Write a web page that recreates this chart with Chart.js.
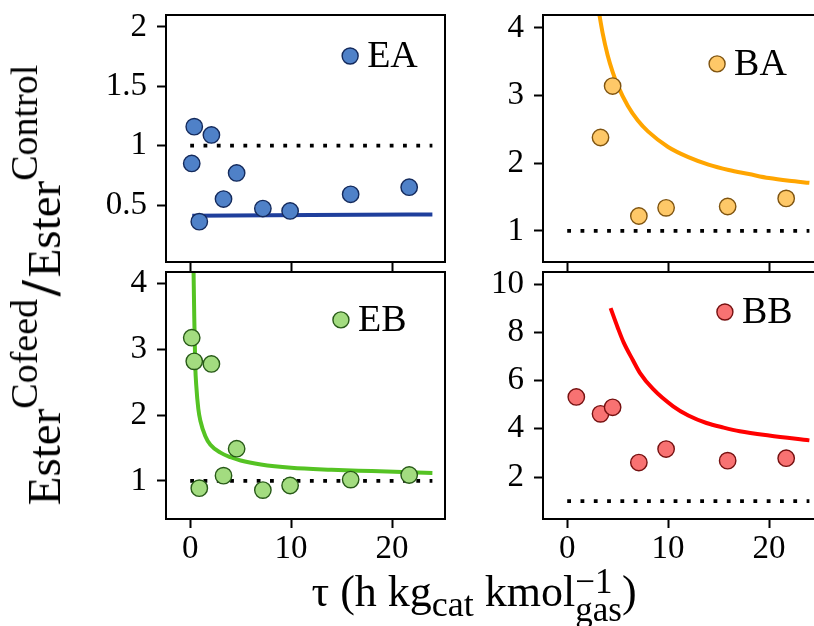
<!DOCTYPE html>
<html><head><meta charset="utf-8">
<script src="https://cdn.jsdelivr.net/npm/chart.js@4/dist/chart.umd.min.js"></script>
<style>
html,body{margin:0;padding:0;background:#fff;overflow:hidden}
#wrap{position:relative;width:814px;height:626px;overflow:hidden;font-family:'Liberation Serif',serif;color:#000;background:#fff}
canvas{position:absolute}
#ytitle{position:absolute;left:41px;top:285px;transform:translate(-50%,-50%) rotate(-90deg);white-space:nowrap;font-size:47px;line-height:1}
#ytitle .sup{font-size:38px;position:relative;top:-0.6em}
#ytitle .sl{font-weight:bold;font-size:56px;margin:0 3px}
#xtitle{position:absolute;left:474px;top:596px;transform:translate(-50%,-50%);white-space:nowrap;font-size:44px;line-height:1}
#xtitle .sub{font-size:36px;position:relative;top:0.28em}
#xtitle .stk{display:inline-flex;flex-direction:column;vertical-align:middle;font-size:35px;line-height:0.82;position:relative;top:0.02em}
</style></head>
<body><div id="wrap">
<canvas id="cEA"></canvas><canvas id="cBA"></canvas><canvas id="cEB"></canvas><canvas id="cBB"></canvas>
<div id="ytitle">Ester<span class="sup">Cofeed</span><span class="sl">/</span>Ester<span class="sup">Control</span></div>
<div id="xtitle">τ (h kg<span class="sub">cat</span> kmol<span class="stk"><span>−1</span><span>gas</span></span>)</div>
</div>
<script>
// ---- data ----
const tauE   = [0.15, 0.4, 0.9, 2.1, 3.3, 4.6, 7.2, 9.9, 15.9, 21.7];
const esterEA = [0.85, 1.16, 0.36, 1.09, 0.55, 0.77, 0.47, 0.45, 0.59, 0.65];
const esterEB = [3.18, 2.82, 0.89, 2.78, 1.08, 1.49, 0.86, 0.93, 1.02, 1.09];
const tauBA  = [3.3, 4.5, 7.1, 9.8, 15.9, 21.7];
const esterBA = [2.38, 3.14, 1.22, 1.34, 1.36, 1.48];
const tauBB  = [0.9, 3.3, 4.5, 7.1, 9.8, 15.9, 21.7];
const esterBB = [5.32, 4.62, 4.89, 2.60, 3.16, 2.68, 2.78];

const fitTauEA = [0.2, 12, 24];
const fitEA    = [0.41, 0.415, 0.42];
const fitTauBA = [3.1, 3.5, 4, 4.5, 5, 6, 7, 8, 10, 12, 14, 16, 18, 20, 22, 24];
const fitBA    = [4.27, 3.93, 3.6, 3.35, 3.15, 2.85, 2.63, 2.47, 2.24, 2.09, 1.98, 1.9, 1.84, 1.78, 1.74, 1.71];
const fitTauEB = [0.33, 0.4, 0.5, 0.6, 0.8, 1, 1.5, 2, 3, 4, 5, 7, 10, 14, 18, 24];
const fitEB    = [4.2, 3.5, 2.75, 2.45, 2.1, 1.92, 1.68, 1.55, 1.43, 1.36, 1.31, 1.25, 1.2, 1.17, 1.15, 1.12];
const fitTauBB = [4.3, 5, 5.6, 6.5, 7.2, 8.5, 10.5, 12, 13.8, 15.5, 17.1, 20, 24];
const fitBB    = [9.0, 8.2, 7.57, 6.85, 6.32, 5.65, 4.93, 4.55, 4.24, 4.05, 3.9, 3.72, 3.52];

const refTau = [0, 24];
const refVal = [1, 1];

const xTicks   = [0, 10, 20];
const yTicksEA = [0.5, 1, 1.5, 2];
const yTicksBA = [1, 2, 3, 4];
const yTicksEB = [1, 2, 3, 4];
const yTicksBB = [2, 4, 6, 8, 10];

// ---- layout ----
const FONT = "'Liberation Serif', serif";
const AX = 110, AXH = 60, PT = 30, PR = 10;
const zip = (xs, ys) => xs.map((x, i) => ({x, y: ys[i]}));

const framePlugin = {
  id: 'frame',
  afterDraw(chart, args, o) {
    const {ctx, chartArea: a} = chart;
    ctx.save();
    ctx.strokeStyle = '#000'; ctx.lineWidth = 2;
    ctx.strokeRect(a.left, a.top, a.right - a.left, a.bottom - a.top);
    const lx = a.left + o.fx * (a.right - a.left), ly = a.top + o.fy * (a.bottom - a.top);
    ctx.beginPath(); ctx.arc(lx, ly, 8, 0, Math.PI * 2);
    ctx.fillStyle = o.fill; ctx.fill(); ctx.lineWidth = 1.4; ctx.strokeStyle = o.edge; ctx.stroke();
    ctx.fillStyle = '#000'; ctx.font = "38px " + FONT; ctx.textBaseline = 'middle'; ctx.textAlign = 'left';
    ctx.fillText(o.label, lx + 17, ly + 1);
    ctx.restore();
  }
};

function panel(id, frame, ymin, ymax, yTicks, tau, vals, fitTau, fitVals, col, leg, showX) {
  const [l, t, r, b] = frame;
  const cv = document.getElementById(id);
  cv.width = (r - l) + AX + PR; cv.height = (b - t) + PT + AXH;
  cv.style.left = (l - AX) + 'px'; cv.style.top = (t - PT) + 'px';
  cv.style.width = cv.width + 'px'; cv.style.height = cv.height + 'px';
  const grid = {drawOnChartArea: false, drawTicks: true, tickLength: 9, tickWidth: 2, tickColor: '#000'};
  new Chart(cv, {
    type: 'scatter',
    data: {datasets: [
      {data: zip(tau, vals), showLine: false, pointRadius: 8.2, pointHoverRadius: 8.2,
       pointBackgroundColor: col.fill, pointBorderColor: col.edge, pointBorderWidth: 1.4},
      {data: zip(fitTau, fitVals), showLine: true, pointRadius: 0, borderColor: col.line, borderWidth: 4,
       cubicInterpolationMode: 'monotone', clip: 0},
      {data: zip(refTau, refVal), showLine: true, pointRadius: 0, borderColor: '#000', borderWidth: 3.8,
       borderDash: [3.8, 9.5], borderCapStyle: 'butt', clip: 0}
    ]},
    options: {
      responsive: false, animation: false, events: [], devicePixelRatio: 1,
      layout: {padding: {top: PT, right: PR, left: 0, bottom: 0}},
      plugins: {legend: {display: false}, tooltip: {enabled: false}, frame: leg},
      scales: {
        x: {type: 'linear', min: -2.4, max: 25.25,
            afterBuildTicks: s => { s.ticks = xTicks.map(v => ({value: v})); },
            afterFit: s => { s.height = AXH; },
            ticks: {display: showX, color: '#000', font: {family: FONT, size: 33}, padding: 2, maxRotation: 0, autoSkip: false,
                    callback: v => String(v)},
            grid: grid, border: {display: false}},
        y: {type: 'linear', min: ymin, max: ymax,
            afterBuildTicks: s => { s.ticks = yTicks.map(v => ({value: v})); },
            afterFit: s => { s.width = AX; },
            ticks: {color: '#000', font: {family: FONT, size: 33}, padding: 10, autoSkip: false,
                    callback: v => String(v)},
            grid: grid, border: {display: false}}
      }
    },
    plugins: [framePlugin]
  });
}

panel('cEA', [166, 15, 445, 262], 0.02, 2.10, yTicksEA, tauE, esterEA, fitTauEA, fitEA,
  {fill: '#4f81c8', edge: '#142a5c', line: '#1f3f9c'}, {fx: 0.66, fy: 0.166, label: 'EA', fill: '#4f81c8', edge: '#142a5c'}, false);
panel('cBA', [543, 15, 822, 262], 0.54, 4.19, yTicksBA, tauBA, esterBA, fitTauBA, fitBA,
  {fill: '#fec868', edge: '#7f5410', line: '#ffa500'}, {fx: 0.624, fy: 0.198, label: 'BA', fill: '#fec868', edge: '#7f5410'}, false);
panel('cEB', [166, 272, 445, 519], 0.42, 4.18, yTicksEB, tauE, esterEB, fitTauEB, fitEB,
  {fill: '#a3dc80', edge: '#285a18', line: '#55c323'}, {fx: 0.627, fy: 0.194, label: 'EB', fill: '#a3dc80', edge: '#285a18'}, true);
panel('cBB', [543, 272, 822, 519], 0.26, 10.5, yTicksBB, tauBB, esterBB, fitTauBB, fitBB,
  {fill: '#f87272', edge: '#751010', line: '#ff0000'}, {fx: 0.652, fy: 0.162, label: 'BB', fill: '#f87272', edge: '#751010'}, true);
</script>
</body></html>
